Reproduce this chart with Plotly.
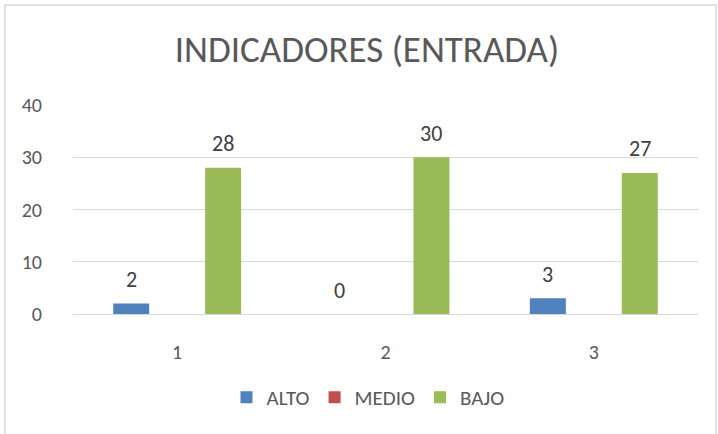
import plotly.graph_objects as go

categories = [1, 2, 3]
series_names = ["ALTO", "MEDIO", "BAJO"]
alto = [2, 0, 3]
medio = [0, 0, 0]
bajo = [28, 30, 27]
show_labels = [True, False, True]
colors = ["#4F81BD", "#C0504D", "#9BBB59"]
y_ticks = [0, 10, 20, 30, 40]

FONT = "Calibri, Carlito, Lato, sans-serif"
TXT = "#595959"
BARGAP = 0.338

values = [alto, medio, bajo]
fig = go.Figure()
for name, vals, col in zip(series_names, values, colors):
    fig.add_trace(go.Bar(x=categories, y=vals, name=name, marker_color=col,
                         marker_line_width=0))

annotations = []
slot = (1 - BARGAP) / len(series_names)
for s, (vals, show) in enumerate(zip(values, show_labels)):
    if not show:
        continue
    for c, v in zip(categories, vals):
        annotations.append(dict(x=c + (s - 1) * slot, y=v, text=str(v), showarrow=False,
                                yshift=24, font=dict(family=FONT, size=22, color="#404040")))

fig.update_layout(
    width=718, height=434,
    margin=dict(l=73, r=20, t=105, b=120),
    paper_bgcolor="white", plot_bgcolor="white",
    barmode="group", bargap=BARGAP, bargroupgap=0.217,
    title=dict(text="INDICADORES (ENTRADA)", x=367 / 718, xanchor="center", y=1 - 49 / 434,
               yanchor="middle", font=dict(family=FONT, size=37, color=TXT)),
    font=dict(family=FONT, color=TXT),
    showlegend=True,
    legend=dict(orientation="h", x=0.472, xanchor="center", y=-0.40, yanchor="middle",
                font=dict(family=FONT, size=21, color=TXT), itemwidth=30,
                traceorder="normal"),
    annotations=annotations,
    shapes=[dict(type="rect", xref="paper", yref="paper", x0=-0.109, x1=1.029,
                 y0=-0.58, y1=1.478, line=dict(color="#D9D9D9", width=1.5),
                 fillcolor="rgba(0,0,0,0)", layer="below")],
)
fig.update_xaxes(tickmode="array", tickvals=categories, ticktext=[str(c) for c in categories],
                 range=[0.5, 3.5], showgrid=False, zeroline=False, showline=False,
                 ticks="outside", ticklen=20, tickcolor="rgba(0,0,0,0)",
                 tickfont=dict(family=FONT, size=20, color=TXT))
fig.update_yaxes(range=[0, 40], tickvals=y_ticks, showgrid=True, gridcolor="#D9D9D9",
                 gridwidth=1.3, zeroline=True, zerolinecolor="#D9D9D9", zerolinewidth=1.3,
                 showline=False, ticks="outside", ticklen=26, tickcolor="rgba(0,0,0,0)",
                 tickfont=dict(family=FONT, size=20, color=TXT))

fig.write_html("out.html", config={"displayModeBar": False},
               post_script="document.body.style.margin='0';")
